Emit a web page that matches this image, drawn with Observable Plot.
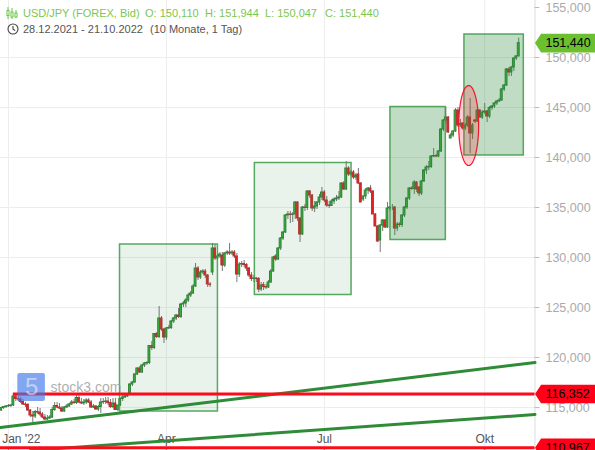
<!DOCTYPE html>
<html><head><meta charset="utf-8">
<script src="https://cdn.jsdelivr.net/npm/d3@7"></script>
<script src="https://cdn.jsdelivr.net/npm/@observablehq/plot@0.6"></script>
<style>
html,body{margin:0;padding:0;background:#fff;overflow:hidden}
#wrap{position:relative;width:595px;height:450px;font-family:"Liberation Sans",Arial,sans-serif}
#chart svg{display:block}
.h{position:absolute;font-size:11px;line-height:14px;white-space:pre}
.ic{position:absolute;left:6px}
</style></head><body>
<div id="wrap"><div id="chart"></div>
<svg class="ic" style="top:7px" width="12" height="12" viewBox="0 0 12 12" fill="none" stroke="#6cc644" stroke-width="1"><path d="M2 0v12M6 1v11M10 3v8"/><rect x="1" y="3.5" width="2" height="5" fill="#fff"/><rect x="5" y="5" width="2" height="5" fill="#fff"/><rect x="9" y="6" width="2" height="4" fill="#fff"/></svg>
<svg class="ic" style="top:23px;left:7px" width="12" height="12" viewBox="0 0 12 12" fill="none" stroke="#444" stroke-width="1.1"><circle cx="6" cy="6" r="5"/><path d="M6 3v3.2l2.2 1.3"/></svg>
<div class="h" style="top:6px;left:23px;color:#7cc74f">USD/JPY (FOREX, Bid)</div>
<div class="h" style="top:6px;left:145px;color:#7cc74f">O: 150,110</div>
<div class="h" style="top:6px;left:205px;color:#7cc74f">H: 151,944</div>
<div class="h" style="top:6px;left:265px;color:#7cc74f">L: 150,047</div>
<div class="h" style="top:6px;left:325px;color:#7cc74f">C: 151,440</div>
<div class="h" style="top:22px;left:23px;color:#555">28.12.2021 - 21.10.2022</div>
<div class="h" style="top:22px;left:150px;color:#555">(10 Monate, 1 Tag)</div>
</div>
<script>
const opens=[114.7,114.95,115.05,115.1,115.15,115.2,116.1,115.85,115.8,115.55,115.3,115.25,114.7,114.2,114.1,114.55,114.5,114.3,114.0,113.8,113.9,114.0,114.75,115.15,115.0,114.9,114.6,115.0,115.1,115.3,115.5,115.45,115.95,115.5,115.4,115.5,115.7,115.5,115.0,115.1,114.8,115.05,115.5,115.55,115.6,115.45,115.05,115.4,114.75,115.2,115.85,116.0,116.1,116.25,117.3,117.5,118.3,118.9,118.5,119.2,119.4,119.45,121.15,120.95,122.35,122.05,123.9,122.8,122.0,122.9,122.95,123.6,123.9,124.2,124.05,125.3,125.4,125.7,126.2,126.4,127.1,128.9,128.0,128.5,128.6,128.2,127.3,128.5,130.9,129.9,130.1,130.2,129.2,130.4,130.5,130.4,130.5,130.1,128.3,129.3,129.35,129.25,128.9,
128.2,127.85,127.9,127.85,126.8,127.25,127.05,127.0,127.5,128.6,130.1,129.8,130.9,131.9,132.5,134.2,134.3,134.25,134.3,135.5,133.9,132.3,135.0,134.95,136.6,136.2,134.9,135.1,135.5,136.0,136.5,135.7,135.2,135.15,135.6,135.8,135.9,136.0,137.4,136.8,138.9,138.3,138.5,138.0,138.3,137.4,135.8,136.1,136.7,136.9,136.6,134.3,133.1,131.7,133.2,133.7,133.0,134.9,135.0,135.0,132.9,133.3,133.25,134.2,135.0,135.9,136.9,136.85,137.5,137.0,136.4,137.6,138.7,139.0,139.05,140.1,140.15,140.1,140.6,142.8,143.7,144.0,141.9,142.2,142.6,144.7,143.2,143.4,142.9,143.2,144.0,142.4,143.7,143.6,144.7,144.0,144.5,144.6,144.1,144.95,145.1,145.4,145.6,145.7,146.8,147.2,148.8,148.5,149.0,149.9,150.11];
const highs=[115.0,115.1,115.2,115.3,115.3,116.35,116.3,116.2,116.0,115.8,115.5,115.4,114.8,114.6,114.7,115.0,114.9,114.5,114.3,114.2,114.2,115.0,115.5,115.5,115.4,115.1,115.1,115.3,115.4,115.7,115.8,116.2,116.3,115.9,115.8,115.9,115.9,115.7,115.3,115.2,115.2,115.9,115.9,116.0,116.0,115.8,115.9,115.9,115.1,115.9,116.2,116.2,116.4,117.4,117.6,118.4,119.0,119.1,119.3,119.5,119.6,121.2,121.6,122.4,122.5,125.1,124.1,122.9,123.0,123.2,123.7,124.0,124.3,124.9,125.4,125.6,125.9,126.4,126.6,127.3,129.4,129.1,128.7,128.8,128.8,128.3,127.5,131.4,131.3,130.3,130.5,130.5,130.5,130.7,131.4,130.7,130.7,130.4,129.5,129.6,129.7,129.4,129.0,
128.5,128.2,128.0,128.0,127.5,127.5,127.3,127.7,128.8,130.1,130.3,131.0,132.0,132.6,134.3,134.6,134.6,134.5,135.6,135.6,134.0,135.1,135.3,136.7,136.7,136.3,135.6,135.6,136.3,137.0,136.7,136.1,135.6,135.8,135.95,136.2,136.6,137.5,137.6,139.6,139.1,138.7,138.7,138.4,138.9,137.5,136.2,136.9,137.0,137.2,136.7,134.4,133.2,133.3,133.8,133.8,135.5,135.1,135.3,135.1,133.5,133.5,134.3,135.1,136.0,137.0,137.1,137.7,137.6,137.1,137.7,138.8,139.2,139.6,140.2,140.9,140.3,140.7,142.9,143.8,145.0,144.1,142.4,142.7,144.9,145.0,143.8,143.5,143.4,144.2,145.9,143.4,143.8,144.9,144.8,144.7,145.4,144.7,145.1,145.2,145.5,145.7,145.9,146.9,147.3,148.9,149.0,149.1,150.0,150.2,151.944];
const lows=[114.6,114.8,114.9,115.0,115.0,115.1,115.6,115.6,115.4,115.2,115.0,114.6,114.0,113.5,113.9,114.3,114.1,113.9,113.7,113.7,113.8,113.9,114.6,114.9,114.8,114.5,114.5,114.9,115.0,115.2,115.3,115.3,115.4,115.3,115.2,115.3,115.4,114.9,114.9,114.7,114.6,114.4,115.3,115.3,115.2,114.9,114.9,114.7,114.6,115.1,115.6,115.9,116.0,116.2,117.1,117.4,118.2,118.4,118.4,119.0,119.2,119.3,120.7,120.8,121.9,121.9,122.6,121.4,121.7,122.8,122.8,123.4,123.7,123.9,123.9,125.0,125.0,125.5,126.0,126.3,127.0,127.7,127.8,128.3,127.9,127.0,127.0,128.2,129.7,129.7,129.9,128.6,129.0,130.2,130.2,130.2,129.9,127.5,128.0,129.0,129.0,128.6,128.0,
127.6,127.5,127.5,126.5,126.6,126.7,126.8,126.9,127.4,128.5,129.6,129.7,130.7,131.7,132.4,133.8,133.4,133.5,133.8,133.6,131.5,132.2,134.6,134.7,135.9,134.6,134.5,134.8,135.2,135.7,135.5,135.0,134.9,135.1,135.3,135.6,135.7,135.9,136.7,136.7,138.1,138.1,137.8,137.7,137.3,135.5,135.6,135.8,136.3,136.4,134.3,133.1,131.5,130.5,132.6,132.9,132.9,134.6,134.7,132.2,132.6,133.0,133.0,134.0,134.8,135.7,136.7,136.3,136.5,136.1,136.2,137.5,138.3,138.7,138.9,140.0,140.0,140.0,140.5,142.6,143.3,142.4,141.9,142.0,142.5,143.0,143.0,142.7,142.7,143.0,140.4,141.8,143.4,143.5,143.9,143.8,144.3,143.5,143.9,144.7,144.9,145.2,145.5,145.6,146.6,147.1,148.1,148.1,148.6,149.7,150.047];
const closes=[114.95,115.05,115.1,115.15,115.2,116.1,115.85,115.8,115.55,115.3,115.25,114.7,114.2,114.1,114.55,114.5,114.3,114.0,113.8,113.9,114.0,114.75,115.15,115.0,114.9,114.6,115.0,115.1,115.3,115.5,115.45,115.95,115.5,115.4,115.5,115.7,115.5,115.0,115.1,114.8,115.05,115.5,115.55,115.6,115.45,115.05,115.4,114.75,115.2,115.85,116.0,116.1,116.25,117.3,117.5,118.3,118.9,118.5,119.2,119.4,119.45,121.15,120.95,122.35,122.05,123.9,122.8,122.0,122.9,122.95,123.6,123.9,124.2,124.05,125.3,125.4,125.7,126.2,126.4,127.1,128.9,128.0,128.5,128.6,128.2,127.3,127.25,130.9,129.9,130.1,130.3,129.2,130.4,130.5,130.4,130.5,130.1,128.3,129.3,129.35,129.25,128.9,128.2,
127.85,127.9,127.85,126.8,127.2,127.05,127.0,127.5,128.6,130.0,129.8,130.9,131.9,132.5,134.2,134.3,134.25,134.3,135.5,133.9,132.3,135.0,134.95,136.6,136.2,134.9,135.1,135.5,136.0,136.5,135.7,135.2,135.15,135.6,135.8,135.9,136.0,137.4,136.8,138.9,138.3,138.5,138.0,138.2,137.4,135.5,136.1,136.7,136.9,136.6,134.3,133.1,131.6,133.2,133.7,133.0,134.9,135.0,135.0,132.9,133.3,133.25,134.2,135.0,135.9,136.9,136.85,137.5,136.8,136.4,137.6,138.7,139.0,139.05,140.1,140.15,140.1,140.6,142.8,143.7,144.0,142.5,142.2,142.6,144.7,143.2,143.35,142.9,143.2,144.0,142.4,143.2,143.6,144.7,144.0,144.5,144.6,144.1,144.95,145.1,145.4,145.6,145.7,146.8,147.2,148.8,148.5,149.0,149.9,150.11,151.44];
const firstIndex=-3;
const yTicks=[155,150,145,140,135,130,125,120,115];
const yTickLabels=["155,000","150,000","145,000","140,000","135,000","130,000","125,000","120,000","115,000"];
const xTicks=[0,65,130,196];
const xTickLabels=["Jan '22","Apr","Jul","Okt"];
const supports=[116.352,110.967];
const supportStarts=[2,-3.29];
const lastPrice=151.44;
const tagLabels=["116,352","110,967"];
const boxesX1=[45.9,101.4,157.2,187.65], boxesX2=[86.2,141.2,180.0,212.1];
const boxesY1=[131.3,139.45,145.05,152.3], boxesY2=[114.6,126.25,131.75,140.2];
const boxesAlpha=[0.1,0.1,0.3,0.3];
const trendX1=[-3.29,9], trendX2=[216.7,216.7], trendY1=[113.0,110.7], trendY2=[119.5,114.3];
const ellipseCenter=[189.4,143.2], ellipseRadii=[4.1,4.0];

const n=Math.min(opens.length,highs.length,lows.length,closes.length);
const candles=d3.range(n).map(k=>({i:firstIndex+k,o:opens[k],h:highs[k],l:lows[k],c:closes[k]}));
const boxes=boxesX1.map((_,k)=>({x1:boxesX1[k],x2:boxesX2[k],y1:boxesY1[k],y2:boxesY2[k],a:boxesAlpha[k]}));
const trends=trendX1.flatMap((_,k)=>[{k,x:trendX1[k],y:trendY1[k]},{k,x:trendX2[k],y:trendY2[k]}]);
const ellipse=d3.range(72).map(a=>({x:ellipseCenter[0]+ellipseRadii[0]*Math.cos(a*Math.PI/36),y:ellipseCenter[1]+ellipseRadii[1]*Math.sin(a*Math.PI/36)}));
const xEnd=216.7,xTick=218.7,xLabel=221,xTagBody=219.2,xRight=241.6,tagH=0.93;
const tag=(v,k)=>[[xEnd,v],[xTagBody,v+tagH],[xRight,v+tagH],[xRight,v-tagH],[xTagBody,v-tagH]].map(p=>({k,x:p[0],y:p[1]}));
const up=d=>d.c>=d.o;
const font='"Liberation Sans",Arial,sans-serif';
const chart=Plot.plot({
  width:595,height:450,margin:0,
  style:{background:"#fff",fontFamily:font,overflow:"hidden"},
  x:{type:"linear",domain:[-3.29,241.6],range:[0,595],axis:null},
  y:{type:"linear",domain:[155.7,110.7],range:[0,450],axis:null},
  marks:[
    Plot.ruleY(yTicks.slice(1),{x1:-3.29,x2:xEnd,stroke:"#ededed",strokeWidth:1}),
    Plot.ruleX(xTicks,{y1:155.7,y2:110.7,stroke:"#ededed",strokeWidth:1}),
    Plot.ruleX([xEnd],{stroke:"#dcdcdc",strokeWidth:1}),
    Plot.ruleY(yTicks,{x1:xEnd,x2:xTick,stroke:"#bbb",strokeWidth:1}),
    Plot.text(yTicks,{x:xLabel,y:d=>d,text:(d,k)=>yTickLabels[k],textAnchor:"start",fontSize:12.5,fill:"#aaa"}),
    Plot.text(xTicks.slice(1),{x:d=>d,y:111.85,text:(d,k)=>xTickLabels[k+1],fontSize:12,fill:"#555"}),
    Plot.text([xTicks[0]],{x:-2.6,y:111.85,text:()=>xTickLabels[0],textAnchor:"start",fontSize:12,fill:"#555"}),
    Plot.ruleX(xTicks,{y1:111.0,y2:110.7,stroke:"#777"}),
    Plot.ruleX(candles,{x:"i",y1:"l",y2:"h",stroke:"#777",strokeWidth:1}),
    Plot.rect(candles,{x1:d=>d.i-0.38,x2:d=>d.i+0.38,y1:"o",y2:"c",fill:d=>up(d)?"#3fb83a":"#ee2020",stroke:d=>up(d)?"#2d8438":"#b83030",strokeWidth:1}),
    Plot.rect(boxes,{x1:"x1",x2:"x2",y1:"y1",y2:"y2",fill:"#2e8b3a",fillOpacity:"a",stroke:"#3a9a48",strokeWidth:1.5,strokeOpacity:0.85}),
    Plot.line(ellipse,{x:"x",y:"y",curve:"linear-closed",fill:"#ff2030",fillOpacity:0.22,stroke:"#f0182a",strokeWidth:1.2}),
    Plot.line(trends,{x:"x",y:"y",z:"k",stroke:"#2e8b37",strokeWidth:3}),
    Plot.ruleY(supports,{x1:(d,k)=>supportStarts[k],x2:xEnd,stroke:"#ff0a1a",strokeWidth:3}),
    Plot.line(tag(lastPrice,0),{x:"x",y:"y",curve:"linear-closed",fill:"#6cc030"}),
    Plot.line(supports.flatMap((v,k)=>tag(v,k+1)),{x:"x",y:"y",z:"k",curve:"linear-closed",fill:"#ff0018"}),
    Plot.text([lastPrice],{x:xLabel,y:d=>d,text:()=>"151,440",textAnchor:"start",fontSize:12.5,fill:"#000"}),
    Plot.text(supports,{x:xLabel,y:d=>d,text:(d,k)=>tagLabels[k],textAnchor:"start",fontSize:12.5,fill:"#000"}),
    Plot.rect([0],{x1:3.83,x2:15.2,y1:118.4,y2:115.6,fill:"#3f78e8",fillOpacity:0.65,rx:2}),
    Plot.text([0],{x:9.5,y:117.0,text:()=>"5",fontSize:24,fill:"#fff",fillOpacity:0.5}),
    Plot.text([0],{x:17.3,y:116.95,text:()=>"stock3.com",textAnchor:"start",fontSize:14,fill:"#999",fillOpacity:0.8})
  ]
});
document.getElementById("chart").appendChild(chart);
</script>
</body></html>
